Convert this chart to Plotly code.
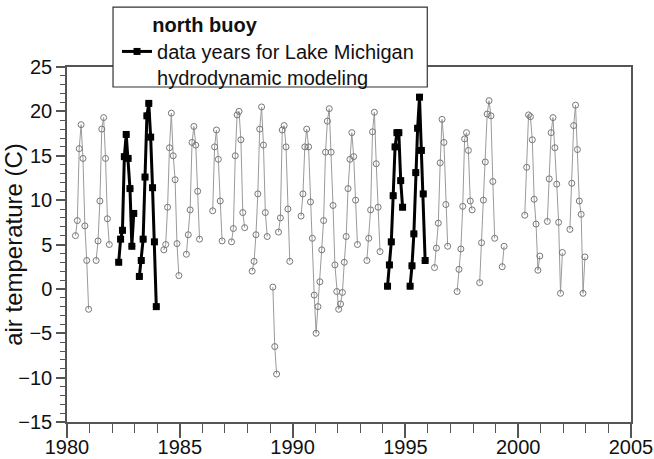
import plotly.graph_objects as go

# ---- data: monthly mean air temperature (C) ----
# each segment: starting year, starting month (1-12), consecutive monthly values
seg_year = [1980, 1981, 1982, 1983, 1984, 1985, 1986, 1987, 1988, 1989, 1989,
            1990, 1993, 1994, 1995, 1996, 1997, 1998, 1999, 2000, 2001, 2002]
seg_start_month = [5, 4, 4, 3, 4, 4, 6, 4, 3, 2, 5,
                   5, 4, 3, 3, 4, 4, 4, 4, 4, 4, 4]
seg_values = [
    [6.0, 7.7, 15.8, 18.5, 14.7, 7.1, 3.2, -2.3],
    [3.2, 5.4, 9.9, 18.0, 19.3, 14.7, 7.9, 5.0],
    [3.0, 5.6, 6.6, 14.9, 17.4, 14.7, 11.3, 4.8, 8.5],
    [1.4, 3.2, 5.6, 12.6, 19.5, 20.9, 17.1, 11.4, 5.3, -2.0],
    [4.4, 5.0, 9.2, 15.9, 19.8, 15.0, 12.3, 5.1, 1.5],
    [3.9, 6.1, 8.9, 16.5, 18.3, 16.2, 11.0, 5.6],
    [8.8, 16.0, 17.9, 14.6, 9.9, 5.4],
    [5.3, 6.8, 15.0, 19.6, 20.0, 16.8, 8.6, 6.9],
    [2.0, 3.1, 6.1, 10.7, 18.0, 20.5, 16.2, 8.6, 5.9],
    [0.2, -6.5, -9.6],
    [6.4, 8.0, 17.9, 18.4, 16.0, 9.0, 3.1],
    [8.2, 10.7, 16.0, 18.0, 16.0, 9.8, 5.7, -0.7,
     -5.0, -2.0, 0.8, 4.4, 7.7, 15.4, 18.9, 20.3, 15.4, 9.4, 2.7, -0.3,
     -2.3, -1.7, -0.4, 3.0, 5.9, 11.3, 14.6, 17.6, 14.9, 10.0, 5.0],
    [3.2, 5.7, 8.9, 17.7, 19.9, 14.1, 9.2, 4.2],
    [0.3, 2.7, 5.3, 10.5, 16.0, 17.6, 17.6, 12.2, 9.2],
    [0.3, 2.6, 6.2, 13.1, 18.1, 21.6, 15.6, 10.7, 3.2],
    [2.4, 4.6, 7.4, 14.2, 19.1, 16.5, 9.5, 4.8],
    [-0.3, 2.2, 4.5, 9.3, 16.9, 17.6, 15.6, 9.9, 8.9],
    [0.7, 5.2, 10.0, 14.3, 19.7, 21.2, 19.5, 12.1, 5.7],
    [2.5, 4.8],
    [8.3, 13.7, 19.6, 19.4, 16.8, 10.1, 7.3, 2.1, 3.7],
    [7.6, 12.4, 17.6, 19.3, 15.9, 11.8, 7.5, -0.5, 4.1],
    [6.7, 11.9, 18.4, 20.7, 15.7, 9.9, 8.4, -0.5, 3.6],
]
highlight_years = [1982, 1983, 1994, 1995]

legend_title = "north buoy"
series_name = "data years for Lake Michigan<br>hydrodynamic modeling"
y_title = "air temperature (C)"


def build(years=None):
    xs, ys = [], []
    for yr, m0, vals in zip(seg_year, seg_start_month, seg_values):
        if years is not None and yr not in years:
            continue
        for i, v in enumerate(vals):
            xs.append(yr + (m0 + i - 0.5) / 12.0)
            ys.append(v)
        xs.append(None)
        ys.append(None)
    return xs, ys


gx, gy = build()
bx, by = build(highlight_years)

fig = go.Figure()
fig.add_trace(go.Scatter(
    x=gx, y=gy, mode="lines+markers", showlegend=False, hoverinfo="skip",
    line=dict(color="#9a9a9a", width=1),
    marker=dict(symbol="circle-open", size=6, color="#777777", line=dict(width=1)),
))
fig.add_trace(go.Scatter(
    x=bx, y=by, mode="lines+markers", name=series_name,
    line=dict(color="black", width=3),
    marker=dict(symbol="square", size=7, color="black"),
))

# white framed box behind the legend (covers the plot frame, like the original)
fig.add_shape(type="rect", xref="paper", yref="paper",
              x0=0.0816, x1=0.6388, y0=0.9436, y1=1.1685,
              layer="above", fillcolor="white",
              line=dict(color="#333333", width=1.2))

axis_col = "#555555"
fig.update_layout(
    width=654, height=459,
    margin=dict(l=67, r=23, t=67, b=37, autoexpand=False),
    paper_bgcolor="white", plot_bgcolor="white",
    font=dict(family="Liberation Sans, Arial, sans-serif", size=20, color="#111111"),
    legend=dict(
        x=0.0887, y=1.172, xanchor="left", yanchor="top",
        bgcolor="rgba(0,0,0,0)", borderwidth=0,
        valign="top", itemwidth=30,
        title=dict(text="\u00a0" * 6 + "<b>" + legend_title + "</b>",
                   font=dict(size=20)),
        font=dict(size=20),
    ),
    xaxis=dict(
        range=[1980, 2005], tick0=1980, dtick=5, automargin=False,
        ticks="outside", ticklen=14, tickwidth=1.5, tickcolor=axis_col,
        ticklabelstandoff=-8,
        showline=True, linecolor=axis_col, linewidth=1.5, mirror=True,
        showgrid=False, zeroline=False,
        minor=dict(dtick=1, ticks="outside", ticklen=9, tickwidth=1.2,
                   tickcolor=axis_col, showgrid=False),
    ),
    yaxis=dict(
        range=[-15, 25], tick0=-15, dtick=5, automargin=False,
        ticks="outside", ticklen=9, tickwidth=1.5, tickcolor=axis_col,
        showline=True, linecolor=axis_col, linewidth=1.5, mirror=True,
        showgrid=False, zeroline=False,
        minor=dict(dtick=1, ticks="outside", ticklen=5, tickwidth=1.2,
                   tickcolor=axis_col, showgrid=False),
        title=dict(text=y_title, standoff=11),
    ),
)

# remove the default 8 px page margin so the figure fills the 654x459 window
fig.write_html("out.html", config={"displayModeBar": False},
               post_script="document.body.style.margin='0px';")
